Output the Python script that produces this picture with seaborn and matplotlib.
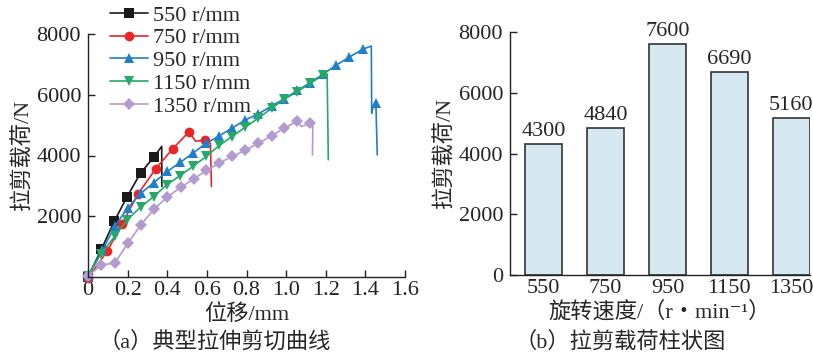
import numpy as np
import pandas as pd
import matplotlib
matplotlib.use("Agg")
import matplotlib.pyplot as plt
import seaborn as sns

sns.set_theme(style="ticks")
plt.rcParams['font.family'] = ['Liberation Serif', 'Noto Sans CJK SC', 'DejaVu Serif']

# ---------------- data ----------------
labels = ["550 r/mm", "750 r/mm", "950 r/mm", "1150 r/mm", "1350 r/mm"]
colors = ["#1a1a1a", "#e8262a", "#1f7fc8", "#25a96a", "#b39ad0"]
markers = ["s", "o", "^", "v", "D"]

x550 = [0, 0.068, 0.133, 0.198, 0.265, 0.332, 0.372, 0.373]
y550 = [0, 920, 1840, 2650, 3420, 3945, 4300, 2980]
m550 = 6

x750 = [0, 0.097, 0.172, 0.253, 0.343, 0.427, 0.51, 0.543, 0.593, 0.618, 0.623]
y750 = [-30, 845, 1750, 2740, 3570, 4220, 4780, 4470, 4515, 4400, 2980]
m750 = [0, 1, 2, 3, 4, 5, 6, 8]

x950 = [0, 0.072, 0.135, 0.2, 0.267, 0.333, 0.4, 0.465, 0.53, 0.597, 0.663,
        0.727, 0.793, 0.86, 0.927, 0.99, 1.057, 1.122, 1.188, 1.252, 1.318,
        1.387, 1.43, 1.432, 1.44, 1.453, 1.46]
y950 = [40, 875, 1665, 2270, 2760, 3110, 3475, 3770, 4080, 4405, 4650,
        4900, 5170, 5370, 5630, 5865, 6140, 6400, 6685, 6970, 7235,
        7500, 7605, 5390, 5630, 5720, 4020]
m950 = list(range(22)) + [25]

x1150 = [0, 0.067, 0.135, 0.198, 0.265, 0.332, 0.398, 0.465, 0.53, 0.597,
         0.662, 0.727, 0.793, 0.86, 0.927, 0.99, 1.057, 1.122, 1.188, 1.207, 1.213]
y1150 = [40, 770, 1340, 1885, 2300, 2650, 3035, 3340, 3640, 3970,
         4330, 4625, 4930, 5230, 5555, 5850, 6105, 6380, 6650, 6685, 3860]
m1150 = list(range(19))

x1350 = [0, 0.068, 0.135, 0.202, 0.267, 0.333, 0.4, 0.467, 0.533, 0.597,
         0.663, 0.727, 0.793, 0.86, 0.927, 0.99, 1.057, 1.077, 1.122, 1.135, 1.133]
y1350 = [40, 395, 460, 1120, 1720, 2235, 2630, 2950, 3220, 3510,
         3750, 3970, 4165, 4405, 4650, 4900, 5130, 4955, 5065, 5085, 4020]
m1350 = list(range(17)) + [18]

speeds = ["550", "750", "950", "1150", "1350"]
loads = [4300, 4840, 7600, 6690, 5160]

curves = [(x550, y550, list(range(m550))), (x750, y750, m750),
          (x950, y950, m950), (x1150, y1150, m1150), (x1350, y1350, m1350)]

# ---------------- figure ----------------
W, H = 813, 356
fig = plt.figure(figsize=(W / 100, H / 100), dpi=100)

ax1 = fig.add_axes([88 / W, 1 - 277 / H, (405 - 88) / W, (277 - 34) / H])
ax2 = fig.add_axes([510 / W, 1 - 275 / H, (810 - 510) / W, (275 - 32) / H])

fs = 16

for (xs, ys, mk), lab, c, m in zip(curves, labels, colors, markers):
    df = pd.DataFrame({"x": xs, "y": ys})
    sns.lineplot(data=df, x="x", y="y", ax=ax1, sort=False, estimator=None,
                 color=c, lw=1.2, marker=m, markersize=7 if m != "D" else 6,
                 markeredgewidth=0, markevery=mk, label=lab, clip_on=False)

ax1.set_xlim(0, 1.6)
ax1.set_ylim(0, 8000)
ax1.set_xticks(np.arange(0, 1.61, 0.2))
ax1.set_xticklabels(["0", "0.2", "0.4", "0.6", "0.8", "1.0", "1.2", "1.4", "1.6"])
ax1.set_yticks([2000, 4000, 6000, 8000])
ax1.tick_params(direction="in", length=5, width=1, labelsize=fs, pad=3, colors="#222222")
ax1.tick_params(axis="y", pad=5)
sns.despine(ax=ax1)
for s in ["left", "bottom"]:
    ax1.spines[s].set_linewidth(1.0)
    ax1.spines[s].set_color("#222222")
ax1.set_xlabel("位移/mm", fontsize=fs, labelpad=3)
ax1.set_ylabel("拉剪载荷/N", fontsize=fs, labelpad=3)

leg = ax1.legend(loc="upper left", bbox_to_anchor=(110 / W, 1 - 5 / H),
                 bbox_transform=fig.transFigure, frameon=False, fontsize=fs,
                 handlelength=1.7, handletextpad=0.25, labelspacing=0.1,
                 borderaxespad=0, borderpad=0)

# bar chart
dfb = pd.DataFrame({"speed": speeds, "load": loads})
sns.barplot(data=dfb, x="speed", y="load", ax=ax2, color="#d6e8f1",
            edgecolor="#333333", linewidth=1.2, width=0.6, saturation=1)
for i, v in enumerate(loads):
    ax2.text(i, v + 100, str(v), ha="center", va="bottom", fontsize=fs)
ax2.set_xlim(-0.54, 4.3)
ax2.set_ylim(0, 8000)
ax2.set_yticks([0, 2000, 4000, 6000, 8000])
ax2.tick_params(axis="y", direction="in", length=5, width=1, labelsize=fs, pad=5)
ax2.tick_params(axis="x", length=0, labelsize=fs, pad=3)
sns.despine(ax=ax2)
for s in ["left", "bottom"]:
    ax2.spines[s].set_linewidth(1.0)
    ax2.spines[s].set_color("#222222")
ax2.set_xlabel("旋转速度/（r・min⁻¹）", fontsize=fs, labelpad=2)
ax2.set_ylabel("拉剪载荷/N", fontsize=fs, labelpad=3)

fig.text(215 / W, 1 - 342 / H, "（a）典型拉伸剪切曲线", ha="center", va="center", fontsize=fs)
fig.text(620 / W, 1 - 342 / H, "（b）拉剪载荷柱状图", ha="center", va="center", fontsize=fs)

fig.savefig("out.png", dpi=100)
